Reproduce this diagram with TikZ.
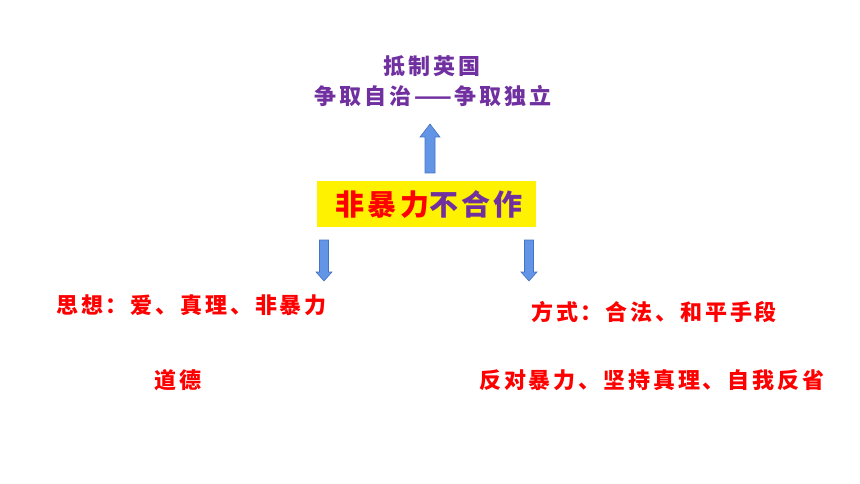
\documentclass[tikz,border=0pt]{standalone}
\usepackage{fontspec}
\newfontfamily\cjk[LetterSpace=13]{Noto Sans CJK SC}
\newfontfamily\cjkc[LetterSpace=12]{Noto Sans CJK SC}
\definecolor{ppl}{RGB}{112,48,160}
\definecolor{rd}{RGB}{255,0,0}
\definecolor{arrfill}{RGB}{99,149,230}
\definecolor{arrdraw}{RGB}{70,114,196}
\tikzset{
  txt/.style={inner sep=0pt, font=\cjk\bfseries\fontsize{22}{25}\selectfont},
  ptxt/.style={txt, text=ppl},
  rtxt/.style={txt, text=rd},
  blk/.style={fill=arrfill, draw=arrdraw, line width=0.6pt}
}
\begin{document}
\begin{tikzpicture}[x=1pt,y=-1pt]
\useasboundingbox (0,0) rectangle (860,484);
% top texts
\node[ptxt] (t1) at (432,66) {抵制英国};
\node[ptxt] (t2) at (433,96) {争取自治——争取独立};
% up arrow
\draw[blk] (430,124) -- (440,137) -- (435,137) -- (435,173) -- (425,173) -- (425,137) -- (420,137) -- cycle;
% centre box
\node[fill=yellow, minimum width=219pt, minimum height=46pt, inner sep=0pt] (box) at (426.5,204) {};
\node[inner sep=0pt, font=\cjkc\bfseries\fontsize{29}{33}\selectfont] (ctr) at (429,204) {\textcolor{rd}{非暴力}\textcolor{ppl}{不合作}};
% down arrows
\draw[blk] (324,281) -- (332,272) -- (328.5,272) -- (328.5,240) -- (319.5,240) -- (319.5,272) -- (316,272) -- cycle;
\draw[blk] (529,281) -- (537,272) -- (533.5,272) -- (533.5,240) -- (524.5,240) -- (524.5,272) -- (521,272) -- cycle;
% left texts
\node[rtxt, anchor=west] (l1) at (56,305) {思想：爱、真理、非暴力};
\node[rtxt, anchor=west] (l2) at (154,380) {道德};
% right texts
\node[rtxt, anchor=west] (r1) at (531,312) {方式：合法、和平手段};
\node[rtxt, anchor=west] (r2) at (479,380) {反对暴力、坚持真理、自我反省};
\end{tikzpicture}
\end{document}
